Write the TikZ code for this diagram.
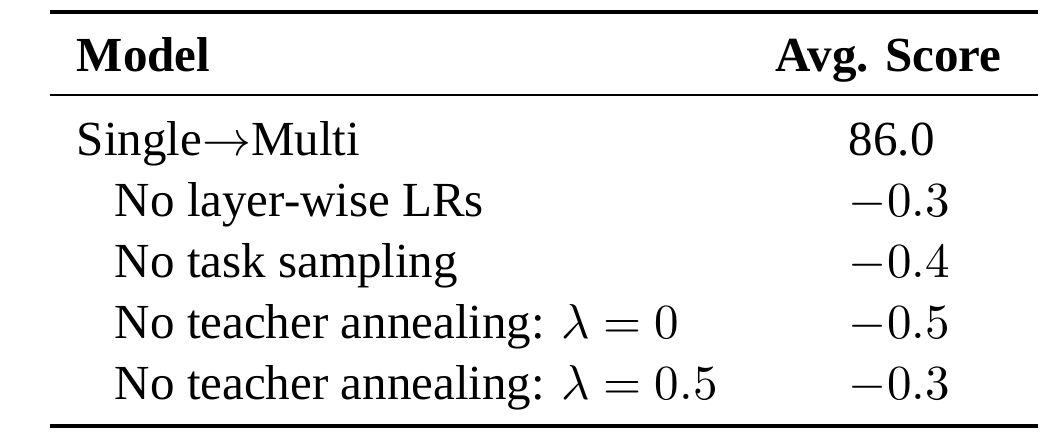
\documentclass[tikz,border=0pt]{standalone}
\usepackage[no-math]{fontspec}
\setmainfont{Liberation Serif}
\usetikzlibrary{positioning}

\begin{document}
\begin{tikzpicture}[
      x=0.2041pt, y=-0.2041pt,
      cell/.style={anchor=base west, inner sep=0pt, font=\fontsize{10}{12}\selectfont},
      head/.style={cell, font=\fontsize{10}{12}\selectfont\bfseries},
      heavyrule/.style={line width=0.8pt},
      lightrule/.style={line width=0.5pt}
    ]
    \useasboundingbox (0,0) rectangle (1050,438);

    % Rules
    \coordinate (topL) at (50,12);
    \coordinate (topR) at (1038,12);
    \coordinate (midL) at (50,95);
    \coordinate (midR) at (1038,95);
    \coordinate (botL) at (50,426);
    \coordinate (botR) at (1038,426);

    \draw[heavyrule] (topL) -- (topR);
    \draw[lightrule] (midL) -- (midR);
    \draw[heavyrule] (botL) -- (botR);

    % Header
    \node[head] (model) at (76,72) {Model};
    \node[head, anchor=base] (avgScore) at (888.5,72) {Avg. Score};

    % Model column
    \node[cell] (single) at (76,156) {Single$\rightarrow$Multi};
    \node[cell] (noLayer) at (114,217) {No layer-wise LRs};
    \node[cell] (noTask) at (114,278) {No task sampling};
    \node[cell] (noTeacherA) at (114,339) {No teacher annealing: $\lambda = 0$};
    \node[cell] (noTeacherB) at (114,400) {No teacher annealing: $\lambda = 0.5$};

    % Score column
    \node[cell] (singleScore) at (848,156) {86.0};
    \node[cell] (noLayerScore) at (848,217) {$-0.3$};
    \node[cell] (noTaskScore) at (848,278) {$-0.4$};
    \node[cell] (noTeacherAScore) at (848,339) {$-0.5$};
    \node[cell] (noTeacherBScore) at (848,400) {$-0.3$};

  \end{tikzpicture}
\end{document}
